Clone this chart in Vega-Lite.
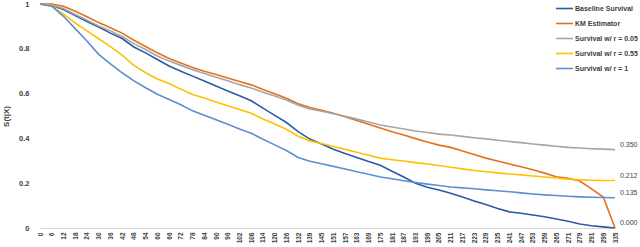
{
  "$schema": "https://vega.github.io/schema/vega-lite/v6.json",
  "width": 575,
  "height": 224,
  "padding": {"left": 40, "top": 4, "right": 25, "bottom": 19},
  "autosize": {"type": "none"},
  "background": "white",
  "config": {
    "font": "Liberation Sans",
    "view": {"stroke": null},
    "axisY": {"tickCount": 10, "labelOverlap": false}
  },
  "data": {
    "values": [
      {"t": "0", "b": 1, "km": 1, "g": 1, "y": 1, "l": 1},
      {"t": "6", "b": 0.993, "km": 1, "g": 0.995, "y": 0.99, "l": 0.99},
      {"t": "12", "b": 0.975, "km": 0.99, "g": 0.98, "y": 0.955, "l": 0.945},
      {"t": "18", "b": 0.948, "km": 0.968, "g": 0.953, "y": 0.915, "l": 0.89},
      {"t": "24", "b": 0.922, "km": 0.943, "g": 0.928, "y": 0.88, "l": 0.835},
      {"t": "30", "b": 0.897, "km": 0.917, "g": 0.902, "y": 0.845, "l": 0.775},
      {"t": "36", "b": 0.87, "km": 0.894, "g": 0.88, "y": 0.81, "l": 0.733},
      {"t": "42", "b": 0.846, "km": 0.87, "g": 0.855, "y": 0.772, "l": 0.693},
      {"t": "48", "b": 0.808, "km": 0.838, "g": 0.823, "y": 0.726, "l": 0.657},
      {"t": "54", "b": 0.782, "km": 0.81, "g": 0.797, "y": 0.693, "l": 0.626},
      {"t": "60", "b": 0.752, "km": 0.782, "g": 0.768, "y": 0.665, "l": 0.597},
      {"t": "66", "b": 0.723, "km": 0.757, "g": 0.745, "y": 0.645, "l": 0.574},
      {"t": "72", "b": 0.7, "km": 0.737, "g": 0.726, "y": 0.62, "l": 0.55},
      {"t": "78", "b": 0.678, "km": 0.717, "g": 0.706, "y": 0.596, "l": 0.523},
      {"t": "84", "b": 0.656, "km": 0.7, "g": 0.69, "y": 0.58, "l": 0.503},
      {"t": "90", "b": 0.634, "km": 0.685, "g": 0.673, "y": 0.563, "l": 0.483},
      {"t": "96", "b": 0.612, "km": 0.67, "g": 0.657, "y": 0.546, "l": 0.463},
      {"t": "102", "b": 0.59, "km": 0.654, "g": 0.64, "y": 0.529, "l": 0.442},
      {"t": "108", "b": 0.568, "km": 0.639, "g": 0.625, "y": 0.512, "l": 0.423},
      {"t": "114", "b": 0.535, "km": 0.618, "g": 0.606, "y": 0.487, "l": 0.396},
      {"t": "120", "b": 0.503, "km": 0.599, "g": 0.589, "y": 0.464, "l": 0.371},
      {"t": "126", "b": 0.471, "km": 0.579, "g": 0.571, "y": 0.441, "l": 0.346},
      {"t": "132", "b": 0.43, "km": 0.555, "g": 0.548, "y": 0.41, "l": 0.315},
      {"t": "139", "b": 0.397, "km": 0.538, "g": 0.531, "y": 0.389, "l": 0.298},
      {"t": "145", "b": 0.375, "km": 0.525, "g": 0.521, "y": 0.377, "l": 0.287},
      {"t": "151", "b": 0.352, "km": 0.512, "g": 0.51, "y": 0.364, "l": 0.275},
      {"t": "157", "b": 0.333, "km": 0.497, "g": 0.499, "y": 0.351, "l": 0.263},
      {"t": "163", "b": 0.315, "km": 0.48, "g": 0.486, "y": 0.338, "l": 0.251},
      {"t": "169", "b": 0.297, "km": 0.463, "g": 0.473, "y": 0.325, "l": 0.24},
      {"t": "175", "b": 0.28, "km": 0.446, "g": 0.46, "y": 0.312, "l": 0.228},
      {"t": "181", "b": 0.253, "km": 0.43, "g": 0.451, "y": 0.305, "l": 0.22},
      {"t": "187", "b": 0.228, "km": 0.415, "g": 0.442, "y": 0.299, "l": 0.211},
      {"t": "193", "b": 0.2, "km": 0.399, "g": 0.433, "y": 0.292, "l": 0.203},
      {"t": "199", "b": 0.182, "km": 0.384, "g": 0.426, "y": 0.286, "l": 0.196},
      {"t": "205", "b": 0.17, "km": 0.37, "g": 0.419, "y": 0.279, "l": 0.19},
      {"t": "211", "b": 0.155, "km": 0.36, "g": 0.415, "y": 0.271, "l": 0.183},
      {"t": "217", "b": 0.138, "km": 0.344, "g": 0.409, "y": 0.264, "l": 0.179},
      {"t": "223", "b": 0.121, "km": 0.328, "g": 0.403, "y": 0.257, "l": 0.175},
      {"t": "229", "b": 0.105, "km": 0.312, "g": 0.398, "y": 0.251, "l": 0.17},
      {"t": "235", "b": 0.087, "km": 0.299, "g": 0.392, "y": 0.246, "l": 0.166},
      {"t": "241", "b": 0.072, "km": 0.286, "g": 0.386, "y": 0.241, "l": 0.162},
      {"t": "247", "b": 0.066, "km": 0.273, "g": 0.381, "y": 0.237, "l": 0.157},
      {"t": "253", "b": 0.058, "km": 0.26, "g": 0.375, "y": 0.232, "l": 0.152},
      {"t": "259", "b": 0.05, "km": 0.245, "g": 0.37, "y": 0.228, "l": 0.148},
      {"t": "265", "b": 0.04, "km": 0.229, "g": 0.365, "y": 0.223, "l": 0.145},
      {"t": "271", "b": 0.03, "km": 0.222, "g": 0.36, "y": 0.218, "l": 0.142},
      {"t": "279", "b": 0.018, "km": 0.21, "g": 0.357, "y": 0.215, "l": 0.139},
      {"t": "291", "b": 0.01, "km": 0.175, "g": 0.354, "y": 0.213, "l": 0.137},
      {"t": "299", "b": 0.005, "km": 0.138, "g": 0.352, "y": 0.212, "l": 0.136},
      {"t": "335", "b": 0, "km": 0, "g": 0.35, "y": 0.212, "l": 0.135}
    ]
  },
  "transform": [{"fold": ["b", "km", "g", "y", "l"], "as": ["series", "v"]}],
  "resolve": {"axis": {"x": "independent", "y": "independent"}},
  "layer": [
    {
      "mark": {"type": "line", "strokeWidth": 1.6},
      "encoding": {
        "x": {
          "field": "t", "type": "ordinal", "sort": null,
          "scale": {"padding": 0},
          "axis": {"title": null, "labelAngle": -90, "labelFontSize": 6.5, "labelFontWeight": "bold", "labelColor": "#404040", "labelPadding": 4, "labelOverlap": false, "tickSize": 0, "domainColor": "#D9D9D9", "domainWidth": 1, "grid": false}
        },
        "y": {
          "field": "v", "type": "quantitative",
          "scale": {"domain": [0, 1], "nice": false},
          "axis": {"title": "S(t|X)", "titleFontSize": 8, "titleFontWeight": "bold", "titleColor": "#404040", "titleX": -30, "titleY": 112, "values": [0, 0.1, 0.2, 0.3, 0.4, 0.5, 0.6, 0.7, 0.8, 0.9, 1], "tickCount": 10, "format": ".1~f", "labelFontSize": 7.5, "labelFontWeight": "bold", "labelColor": "#404040", "labelPadding": 11, "labelOverlap": false, "tickSize": 0, "domainOpacity": 0, "grid": false}
        },
        "color": {
          "field": "series", "type": "nominal",
          "scale": {"domain": ["b", "km", "g", "y", "l"], "range": ["#2B5BA6", "#E2711D", "#A5A5A5", "#FFC000", "#5B8FCF"]},
          "legend": {
            "title": null, "orient": "none", "legendX": 519, "legendY": -1, "padding": 0,
            "symbolType": "M-2,0L2,0", "symbolSize": 72, "symbolStrokeWidth": 1.6,
            "labelFontSize": 7, "labelFontWeight": "bold", "labelColor": "#404040", "labelOffset": 5, "rowPadding": 6,
            "labelExpr": "{'b': 'Baseline Survival', 'km': 'KM Estimator', 'g': 'Survival w/ r = 0.05', 'y': 'Survival w/ r = 0.55', 'l': 'Survival w/ r = 1'}[datum.label]"
          }
        }
      }
    },
    {
      "transform": [{"filter": "datum.t == '335' && datum.series != 'km'"}],
      "mark": {"type": "text", "align": "left", "baseline": "middle", "dx": 5, "dy": -5, "fontSize": 7, "color": "#404040"},
      "encoding": {
        "x": {"field": "t", "type": "ordinal", "sort": null, "axis": null},
        "y": {"field": "v", "type": "quantitative", "axis": null},
        "text": {"field": "v", "type": "quantitative", "format": ".3f"}
      }
    }
  ]
}
